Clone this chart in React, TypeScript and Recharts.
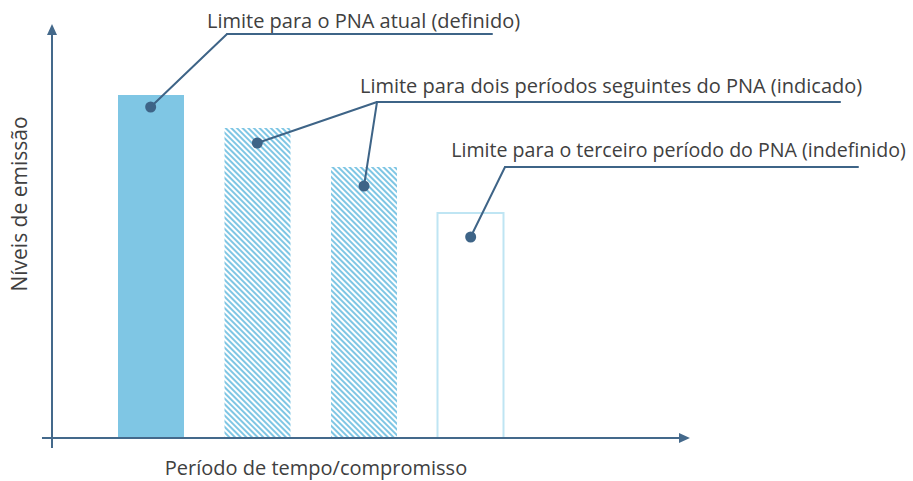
import React from "react";
import {
  Bar,
  BarChart,
  Cell,
  ReferenceDot,
  ReferenceLine,
  XAxis,
  YAxis
} from "recharts";

// four commitment periods and their emission limits
const periods = ["PNA atual", "Período 2", "Período 3", "Período 4"];
const emissionLevels = [85.75, 77.5, 67.75, 56.25];
const periodKinds = ["defined", "indicated", "indicated", "undefined"];

const AXIS_COLOR = "#44698b";
const NOTE_COLOR = "#3e6487";
const TEXT_COLOR = "#404040";
const BAR_BLUE = "#7fc6e4";
const FONT = "'Open Sans', Roboto, sans-serif";

const data = periods.map((name, i) => ({
  name,
  pos: i + 1,
  value: emissionLevels[i],
  kind: periodKinds[i]
}));

// callouts, in chart units (x: period index, y: emission level)
const notes = [
  {
    text: "Limite para o PNA atual (definido)",
    size: 20,
    at: { x: 1.528, y: 102.5 },
    apex: { x: 1.716, y: 101 },
    end: 4.2,
    targets: [{ bar: 0, drop: 3 }]
  },
  {
    text: "Limite para dois períodos seguintes do PNA (indicado)",
    size: 20,
    at: { x: 2.962, y: 86.25 },
    apex: { x: 3.122, y: 84 },
    end: 7.463,
    targets: [
      { bar: 1, drop: 3.75 },
      { bar: 2, drop: 4.75 }
    ]
  },
  {
    text: "Limite para o terceiro período do PNA (indefinido)",
    size: 19.6,
    at: { x: 3.818, y: 70.25 },
    apex: { x: 4.322, y: 67.75 },
    end: 7.631,
    targets: [{ bar: 3, drop: 6 }]
  }
];

const fillFor = (kind: string) => {
  if (kind === "defined") return BAR_BLUE;
  if (kind === "indicated") return "url(#hatch)";
  return "none";
};

const TextLabel = ({ viewBox, text, rotate, anchor, size }: any) => {
  const x = viewBox?.x ?? 0;
  const y = viewBox?.y ?? 0;
  return (
    <text
      x={x}
      y={y}
      fill={TEXT_COLOR}
      fontFamily={FONT}
      fontSize={size ?? 20}
      textAnchor={anchor ?? "start"}
      transform={rotate ? `rotate(-90, ${x}, ${y})` : undefined}
      dominantBaseline={rotate ? "central" : "auto"}
    >
      {text}
    </text>
  );
};

export default function App() {
  return (
    <div style={{ position: "absolute", left: 0, top: 0, width: 913, height: 481, background: "#fff" }}>
      <BarChart
        width={913}
        height={481}
        data={data}
        margin={{ top: 38, right: 229, bottom: 33, left: 44 }}
      >
        <defs>
          <pattern
            id="hatch"
            patternUnits="userSpaceOnUse"
            width={4}
            height={4}
            patternTransform="rotate(-45)"
          >
            <rect width={4} height={4} fill="#ffffff" />
            <rect width={2} height={4} fill={BAR_BLUE} />
          </pattern>
          <marker
            id="arrow"
            markerUnits="userSpaceOnUse"
            markerWidth={12}
            markerHeight={12}
            viewBox="0 0 12 12"
            refX={1}
            refY={6}
            orient="auto"
          >
            <path d="M0,1 L11,6 L0,11 z" fill={AXIS_COLOR} />
          </marker>
        </defs>
        <XAxis xAxisId="cat" dataKey="name" hide padding={{ left: 54, right: 160 }} />
        <XAxis xAxisId="num" type="number" dataKey="pos" domain={[0, 6]} hide />
        <YAxis type="number" domain={[-2.5, 100]} hide />

        <Bar
          xAxisId="cat"
          dataKey="value"
          barSize={66}
          isAnimationActive={false}
        >
          {data.map((d) => (
            <Cell
              key={d.name}
              fill={fillFor(d.kind)}
              stroke={d.kind === "undefined" ? "#bfe5f3" : "none"}
              strokeWidth={d.kind === "undefined" ? 2 : 0}
            />
          ))}
        </Bar>

        {/* axes with arrow heads */}
        <ReferenceLine
          xAxisId="num"
          ifOverflow="visible"
          segment={[{ x: 0.075, y: -2.5 }, { x: 0.075, y: 101 }]}
          stroke={AXIS_COLOR}
          strokeWidth={2}
          markerEnd="url(#arrow)"
        />
        <ReferenceLine
          xAxisId="num"
          ifOverflow="visible"
          segment={[{ x: -0.019, y: 0 }, { x: 5.962, y: 0 }]}
          stroke={AXIS_COLOR}
          strokeWidth={2}
          markerEnd="url(#arrow)"
        />

        {/* callouts */}
        {notes.map((n) => (
          <ReferenceLine
            key={n.text + "-u"}
            xAxisId="num"
            ifOverflow="visible"
            segment={[n.apex, { x: n.end, y: n.apex.y }]}
            stroke={NOTE_COLOR}
            strokeWidth={2}
            strokeLinecap="round"
          />
        ))}
        {notes.flatMap((n) =>
          n.targets.map((t) => (
            <ReferenceLine
              key={n.text + t.bar}
              xAxisId="num"
              ifOverflow="visible"
              segment={[n.apex, { x: data[t.bar].pos, y: data[t.bar].value - t.drop }]}
              stroke={NOTE_COLOR}
              strokeWidth={2}
              strokeLinecap="round"
            />
          ))
        )}
        {notes.flatMap((n) =>
          n.targets.map((t) => (
            <ReferenceDot
              key={n.text + "dot" + t.bar}
              xAxisId="num"
              ifOverflow="visible"
              x={data[t.bar].pos}
              y={data[t.bar].value - t.drop}
              r={5.5}
              fill={NOTE_COLOR}
              stroke="none"
            />
          ))
        )}
        {notes.map((n) => (
          <ReferenceDot
            key={n.text}
            xAxisId="num"
            ifOverflow="visible"
            x={n.at.x}
            y={n.at.y}
            r={0}
            stroke="none"
            fill="none"
            label={(p: any) => <TextLabel {...p} text={n.text} size={n.size} />}
          />
        ))}

        {/* axis titles */}
        <ReferenceDot
          xAxisId="num"
          ifOverflow="visible"
          x={2.55}
          y={-9.25}
          r={0}
          stroke="none"
          fill="none"
          label={(p: any) => <TextLabel {...p} text="Período de tempo/compromisso" anchor="middle" />}
        />
        <ReferenceDot
          xAxisId="num"
          ifOverflow="visible"
          x={-0.234}
          y={58.5}
          r={0}
          stroke="none"
          fill="none"
          label={(p: any) => <TextLabel {...p} text="Níveis de emissão" anchor="middle" rotate size={21} />}
        />
      </BarChart>
    </div>
  );
}
